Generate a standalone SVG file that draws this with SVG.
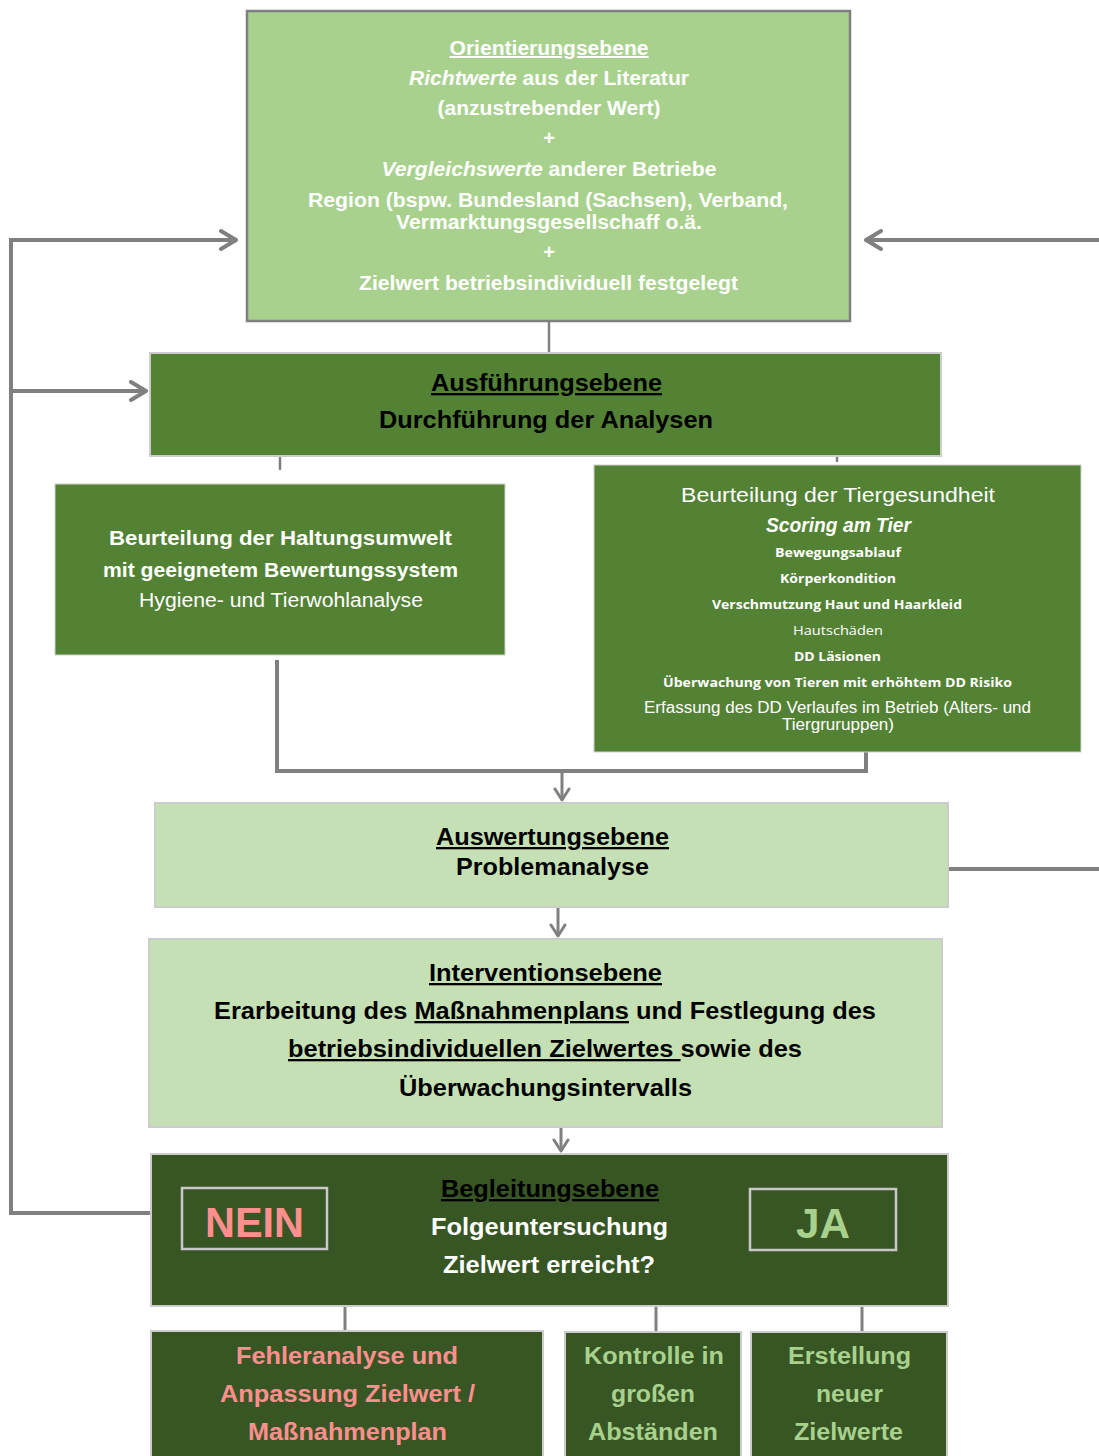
<svg xmlns="http://www.w3.org/2000/svg" width="1099" height="1456" viewBox="0 0 1099 1456">
<style>
text{font-family:"Liberation Sans",Arial,sans-serif;text-anchor:middle}
.w{fill:#fff}.k{fill:#000}.b{font-weight:bold}.i{font-style:italic}.u{text-decoration:underline}
.f20{font-size:20px}.f23{font-size:23px}.f24{font-size:24px}.f42{font-size:42px}
.sm{font-family:"Open Sans","Liberation Sans",sans-serif;font-size:13px}
.con{fill:none;stroke:#808080;stroke-width:4}
.thin{fill:none;stroke:#808080;stroke-width:2.5}
.mid{fill:none;stroke:#808080;stroke-width:3}
.box{stroke:#cccccc;stroke-width:2}
.red{fill:#ff8f8f}.lg{fill:#a9d18e}
</style>
<defs>
<marker id="big" markerUnits="userSpaceOnUse" viewBox="-18 -12 20 24" refX="0" refY="0" markerWidth="20" markerHeight="24" orient="auto">
<path d="M-15,-9 L0,0 L-15,9" fill="none" stroke="#808080" stroke-width="4" stroke-linecap="round" stroke-linejoin="round"/>
</marker>
<marker id="sm" markerUnits="userSpaceOnUse" viewBox="-14 -10 16 20" refX="0" refY="0" markerWidth="16" markerHeight="20" orient="auto">
<path d="M-11,-7 L0,0 L-11,7" fill="none" stroke="#808080" stroke-width="3" stroke-linecap="round" stroke-linejoin="round"/>
</marker>
</defs>
<rect width="1099" height="1456" fill="#fff"/>

<g id="connectors">
<path class="con" d="M150,1213 H11 V240 H236" marker-end="url(#big)"/>
<path class="con" d="M11,391 H146" marker-end="url(#big)"/>
<path class="con" d="M1099,240 H866" marker-end="url(#big)"/>
<path class="con" d="M943,869 H1099"/>
<path class="thin" d="M549,321 V353"/>
<path class="thin" d="M280,457 V470"/>
<path class="thin" d="M837,457 V462"/>
<path class="con" d="M277,660 V771 H866 V752"/>
<path class="mid" d="M562,771 V800" marker-end="url(#sm)"/>
<path class="mid" d="M558,907 V936" marker-end="url(#sm)"/>
<path class="mid" d="M561,1127 V1151" marker-end="url(#sm)"/>
<path class="mid" d="M345,1306 V1330"/>
<path class="mid" d="M656,1306 V1332"/>
<path class="mid" d="M862,1306 V1332"/>
</g>

<g id="orientierung">
<rect x="247" y="11" width="603" height="310" fill="#a9d18e" stroke="#7f7f7f" stroke-width="2.5"/>
<text class="w b f20 u" x="549" y="55" textLength="199" lengthAdjust="spacingAndGlyphs">Orientierungsebene</text>
<text class="w b f20" x="549" y="85" textLength="280" lengthAdjust="spacingAndGlyphs"><tspan class="i">Richtwerte</tspan> aus der Literatur</text>
<text class="w b f20" x="549" y="115" textLength="223" lengthAdjust="spacingAndGlyphs">(anzustrebender Wert)</text>
<text class="w b f20" x="549" y="145">+</text>
<text class="w b f20" x="549" y="176" textLength="335" lengthAdjust="spacingAndGlyphs"><tspan class="i">Vergleichswerte</tspan> anderer Betriebe</text>
<text class="w b f20" x="548" y="207" textLength="480" lengthAdjust="spacingAndGlyphs">Region (bspw. Bundesland (Sachsen), Verband,</text>
<text class="w b f20" x="549" y="229" textLength="306" lengthAdjust="spacingAndGlyphs">Vermarktungsgesellschaff o.ä.</text>
<text class="w b f20" x="549" y="259">+</text>
<text class="w b f20" x="548.5" y="290" textLength="379" lengthAdjust="spacingAndGlyphs">Zielwert betriebsindividuell festgelegt</text>
</g>

<g id="ausfuehrung">
<rect class="box" x="150" y="353" width="791" height="103" fill="#548235"/>
<text class="k b f23 u" x="546.5" y="391" textLength="231" lengthAdjust="spacingAndGlyphs">Ausführungsebene</text>
<text class="k b f23" x="546" y="428" textLength="334" lengthAdjust="spacingAndGlyphs">Durchführung der Analysen</text>
</g>

<g id="haltungsumwelt">
<rect x="55" y="484" width="450" height="171" fill="#548235" stroke="#d0d0d0" stroke-width="1"/>
<text class="w b f20" x="280.5" y="545" textLength="343" lengthAdjust="spacingAndGlyphs">Beurteilung der Haltungsumwelt</text>
<text class="w b f20" x="280.5" y="577" textLength="355" lengthAdjust="spacingAndGlyphs">mit geeignetem Bewertungssystem</text>
<text class="w f20" x="281" y="607" textLength="284" lengthAdjust="spacingAndGlyphs">Hygiene- und Tierwohlanalyse</text>
</g>

<g id="tiergesundheit">
<rect x="594" y="465" width="487" height="287" fill="#548235" stroke="#d0d0d0" stroke-width="1"/>
<text class="w f20" x="838" y="502" textLength="314" lengthAdjust="spacingAndGlyphs">Beurteilung der Tiergesundheit</text>
<text class="w b i f20" x="838.5" y="532" textLength="145" lengthAdjust="spacingAndGlyphs">Scoring am Tier</text>
<text class="w b sm" x="838" y="557" textLength="126" lengthAdjust="spacingAndGlyphs">Bewegungsablauf</text>
<text class="w b sm" x="838" y="583" textLength="116" lengthAdjust="spacingAndGlyphs">Körperkondition</text>
<text class="w b sm" x="837" y="609" textLength="250" lengthAdjust="spacingAndGlyphs">Verschmutzung Haut und Haarkleid</text>
<text class="w sm" x="838" y="635" textLength="90" lengthAdjust="spacingAndGlyphs">Hautschäden</text>
<text class="w b sm" x="837.5" y="661" textLength="87" lengthAdjust="spacingAndGlyphs">DD Läsionen</text>
<text class="w b sm" x="837.5" y="687" textLength="349" lengthAdjust="spacingAndGlyphs">Überwachung von Tieren mit erhöhtem DD Risiko</text>
<text class="w" style="font-size:16px" x="837.5" y="713" textLength="387" lengthAdjust="spacingAndGlyphs">Erfassung des DD Verlaufes im Betrieb (Alters- und</text>
<text class="w" style="font-size:16px" x="838" y="730" textLength="112" lengthAdjust="spacingAndGlyphs">Tiergruruppen)</text>
</g>

<g id="auswertung">
<rect class="box" x="155" y="803" width="793" height="104" fill="#c5e0b4"/>
<text class="k b f23 u" x="552.5" y="845" textLength="233" lengthAdjust="spacingAndGlyphs">Auswertungsebene</text>
<text class="k b f23" x="552.5" y="875" textLength="193" lengthAdjust="spacingAndGlyphs">Problemanalyse</text>
</g>

<g id="intervention">
<rect class="box" x="149" y="939" width="793" height="188" fill="#c5e0b4"/>
<text class="k b f23 u" x="545.5" y="981" textLength="233" lengthAdjust="spacingAndGlyphs">Interventionsebene</text>
<text class="k b f23" x="545" y="1019" textLength="662" lengthAdjust="spacingAndGlyphs">Erarbeitung des <tspan class="u">Maßnahmenplans</tspan> und Festlegung des</text>
<text class="k b f23" x="545" y="1057" textLength="514" lengthAdjust="spacingAndGlyphs"><tspan class="u">betriebsindividuellen Zielwertes </tspan>sowie des</text>
<text class="k b f23" x="545.5" y="1096" textLength="293" lengthAdjust="spacingAndGlyphs">Überwachungsintervalls</text>
</g>

<g id="begleitung">
<rect class="box" x="151" y="1154" width="797" height="152" fill="#375623"/>
<text class="k b f23 u" x="550" y="1197" textLength="218" lengthAdjust="spacingAndGlyphs">Begleitungsebene</text>
<text class="w b f23" x="549.5" y="1235" textLength="237" lengthAdjust="spacingAndGlyphs">Folgeuntersuchung</text>
<text class="w b f23" x="549" y="1273" textLength="212" lengthAdjust="spacingAndGlyphs">Zielwert erreicht?</text>
</g>

<g id="nein">
<rect x="182" y="1188" width="145" height="61" fill="none" stroke="#c8c8c8" stroke-width="2.5"/>
<text class="red b f42" x="254.5" y="1237" textLength="99" lengthAdjust="spacingAndGlyphs">NEIN</text>
</g>

<g id="ja">
<rect x="750" y="1189" width="146" height="61" fill="none" stroke="#c8c8c8" stroke-width="2.5"/>
<text class="lg b f42" x="823" y="1238" textLength="54" lengthAdjust="spacingAndGlyphs">JA</text>
</g>

<g id="fehleranalyse">
<rect class="box" x="151" y="1331" width="392" height="130" fill="#375623"/>
<text class="red b f24" x="347" y="1364" textLength="222" lengthAdjust="spacingAndGlyphs">Fehleranalyse und</text>
<text class="red b f24" x="347.5" y="1402" textLength="255" lengthAdjust="spacingAndGlyphs">Anpassung Zielwert /</text>
<text class="red b f24" x="347.5" y="1440" textLength="199" lengthAdjust="spacingAndGlyphs">Maßnahmenplan</text>
</g>

<g id="kontrolle">
<rect class="box" x="565" y="1332" width="176" height="130" fill="#375623"/>
<text class="lg b f24" x="654" y="1364" textLength="140" lengthAdjust="spacingAndGlyphs">Kontrolle in</text>
<text class="lg b f24" x="653" y="1402" textLength="84" lengthAdjust="spacingAndGlyphs">großen</text>
<text class="lg b f24" x="653" y="1440" textLength="130" lengthAdjust="spacingAndGlyphs">Abständen</text>
</g>

<g id="erstellung">
<rect class="box" x="751" y="1332" width="196" height="130" fill="#375623"/>
<text class="lg b f24" x="849.5" y="1364" textLength="123" lengthAdjust="spacingAndGlyphs">Erstellung</text>
<text class="lg b f24" x="849.5" y="1402" textLength="67" lengthAdjust="spacingAndGlyphs">neuer</text>
<text class="lg b f24" x="848.5" y="1440" textLength="109" lengthAdjust="spacingAndGlyphs">Zielwerte</text>
</g>
</svg>
